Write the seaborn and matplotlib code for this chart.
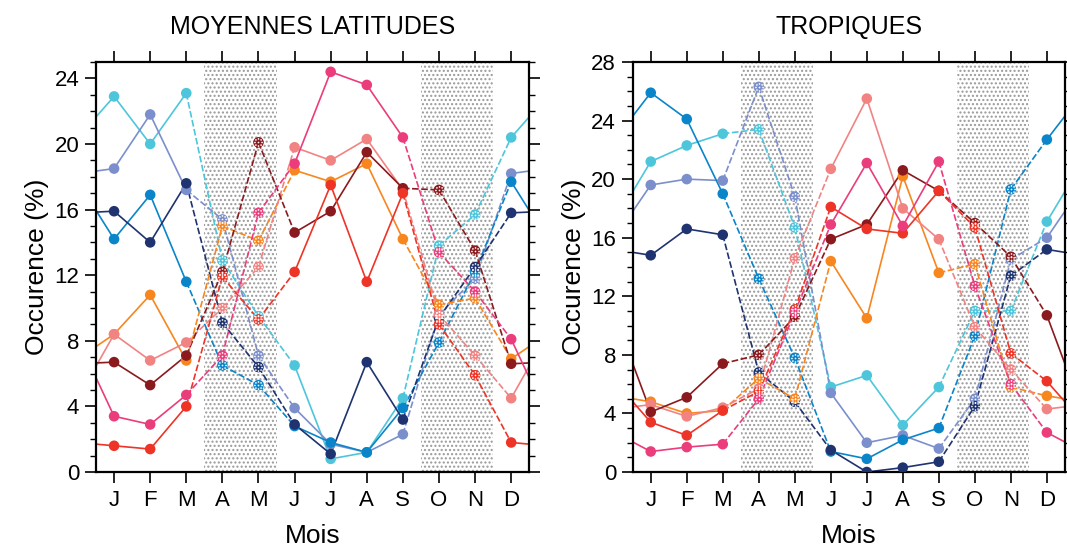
import matplotlib
matplotlib.use('Agg')
import matplotlib.pyplot as plt
from matplotlib.ticker import MultipleLocator
from matplotlib.path import Path
import seaborn as sns
import pandas as pd

sns.set_style('white')
plt.rcParams['font.family'] = ['Liberation Sans', 'DejaVu Sans']
plt.rcParams['text.color'] = 'black'
plt.rcParams['axes.labelcolor'] = 'black'
plt.rcParams['xtick.color'] = 'black'
plt.rcParams['ytick.color'] = 'black'

months = ['J', 'F', 'M', 'A', 'M', 'J', 'J', 'A', 'S', 'O', 'N', 'D']
shaded = [4, 5, 10, 11]  # A, M, O, N

series = ['cyan', 'lavender', 'blue', 'navy', 'orange', 'salmon', 'darkred', 'red', 'magenta']
colors = {'cyan': '#4DC6DB', 'lavender': '#7B8FCC', 'blue': '#0A85C9', 'navy': '#1E3370',
          'orange': '#F7861F', 'salmon': '#F28383', 'darkred': '#8A1A1E', 'red': '#EE3426',
          'magenta': '#EB3C7C'}

# moyennes latitudes
ml_cyan = [22.9, 20.0, 23.1, 12.9, 9.5, 6.5, 0.8, 1.2, 4.5, 13.8, 15.7, 20.4]
ml_lavender = [18.5, 21.8, 17.2, 15.4, 7.1, 3.9, 1.7, 1.2, 2.3, 9.6, 11.8, 18.2]
ml_blue = [14.2, 16.9, 11.6, 6.5, 5.3, 2.8, 1.8, 1.2, 3.9, 7.9, 12.2, 17.7]
ml_navy = [15.9, 14.0, 17.6, 9.1, 6.4, 2.9, 1.1, 6.7, 3.2, 9.4, 12.5, 15.8]
ml_orange = [8.4, 10.8, 6.8, 15.0, 14.1, 18.4, 17.7, 18.8, 14.2, 10.2, 10.6, 6.9]
ml_salmon = [8.4, 6.8, 7.9, 10.0, 12.5, 19.8, 19.0, 20.3, 17.2, 9.6, 7.1, 4.5]
ml_darkred = [6.7, 5.3, 7.1, 12.2, 20.1, 14.6, 15.9, 19.5, 17.3, 17.2, 13.5, 6.6]
ml_red = [1.6, 1.4, 4.0, 11.9, 9.3, 12.2, 17.5, 11.6, 17.0, 9.0, 5.9, 1.8]
ml_magenta = [3.4, 2.9, 4.7, 7.1, 15.8, 18.8, 24.4, 23.6, 20.4, 13.4, 11.0, 8.1]

# tropiques
tr_cyan = [21.2, 22.3, 23.1, 23.4, 16.7, 5.8, 6.6, 3.2, 5.8, 11.0, 11.0, 17.1]
tr_lavender = [19.6, 20.0, 19.9, 26.3, 18.8, 5.4, 2.0, 2.5, 1.6, 5.0, 14.5, 16.0]
tr_blue = [25.9, 24.1, 19.0, 13.2, 7.8, 1.4, 0.9, 2.2, 3.0, 9.3, 19.3, 22.7]
tr_navy = [14.8, 16.6, 16.2, 6.8, 4.8, 1.5, 0.0, 0.3, 0.7, 4.5, 13.4, 15.2]
tr_orange = [4.8, 4.0, 4.2, 6.4, 5.0, 14.4, 10.5, 20.2, 13.6, 14.2, 5.8, 5.2]
tr_salmon = [4.6, 3.8, 4.4, 5.7, 14.6, 20.7, 25.5, 18.0, 15.9, 9.9, 7.0, 4.3]
tr_darkred = [4.1, 5.1, 7.4, 8.0, 10.6, 15.9, 16.9, 20.6, 19.2, 17.0, 14.7, 10.7]
tr_red = [3.4, 2.5, 4.2, 5.5, 11.1, 18.1, 16.6, 16.3, 19.2, 16.7, 8.1, 6.2]
tr_magenta = [1.4, 1.7, 1.9, 5.0, 10.9, 16.9, 21.1, 16.8, 21.2, 12.7, 6.0, 2.7]

ml_data = [ml_cyan, ml_lavender, ml_blue, ml_navy, ml_orange, ml_salmon, ml_darkred, ml_red, ml_magenta]
tr_data = [tr_cyan, tr_lavender, tr_blue, tr_navy, tr_orange, tr_salmon, tr_darkred, tr_red, tr_magenta]

# petit motif de points blancs pour les mois grisés
dot_centers = [(0, 0), (0.55, 0), (-0.55, 0), (0, 0.55), (0, -0.55),
               (0.4, 0.4), (-0.4, 0.4), (0.4, -0.4), (-0.4, -0.4)]
dots = Path.make_compound_path(*[Path.circle(c, 0.13) for c in dot_centers])


def build(data):
    pts = []
    segs = []
    for name, vals in zip(series, data):
        for i, v in enumerate(vals):
            pts.append({'serie': name, 'x': i + 1, 'val': v, 'shade': (i + 1) in shaded})
        # cyclic: D before J and J after D
        ext = [vals[-1]] + vals + [vals[0]]
        for i in range(13):
            dash = (i in shaded) or ((i + 1) in shaded)
            for k in (i, i + 1):
                segs.append({'serie': name, 'x': k, 'val': ext[k], 'seg': i, 'dash': dash})
    return pd.DataFrame(pts), pd.DataFrame(segs)


fig = plt.figure(figsize=(10.67, 5.46), dpi=100)
ax1 = fig.add_axes([0.090, 0.1355, 0.406, 0.751])
ax2 = fig.add_axes([0.593, 0.1355, 0.405, 0.751])

for ax, data, title, ymax in [(ax1, ml_data, 'MOYENNES LATITUDES', 25),
                              (ax2, tr_data, 'TROPIQUES', 28)]:
    pts, segs = build(data)
    for a, b in [(3.5, 5.5), (9.5, 11.5)]:
        ax.axvspan(a, b, facecolor='white', edgecolor='#999999', hatch='....', lw=0, zorder=0)
    sns.lineplot(data=segs, x='x', y='val', hue='serie', style='dash', units='seg',
                 estimator=None, palette=colors, dashes={False: '', True: (4, 1.5)},
                 lw=1.2, legend=False, ax=ax, zorder=2)
    sns.scatterplot(data=pts, x='x', y='val', hue='serie', palette=colors,
                    s=58, linewidth=0, legend=False, ax=ax, zorder=3)
    sh = pts[pts['shade']]
    ax.scatter(sh['x'], sh['val'], marker=dots, s=40, color='white', linewidths=0, zorder=4)

    ax.set_xlim(0.5, 12.5)
    ax.set_ylim(0, ymax)
    ax.set_xticks(range(1, 13))
    ax.set_xticklabels(months)
    ax.yaxis.set_major_locator(MultipleLocator(4))
    ax.yaxis.set_minor_locator(MultipleLocator(1))
    ax.tick_params(axis='x', which='major', direction='out', length=8, width=1.2,
                   top=True, bottom=True, labelsize=16, pad=5)
    ax.tick_params(axis='y', which='major', direction='out', length=8, width=1.2,
                   left=True, right=True, labelsize=16, pad=4)
    ax.tick_params(axis='y', which='minor', direction='out', length=4.5, width=1.0,
                   left=True, right=True)
    for sp in ax.spines.values():
        sp.set_linewidth(1.6)
        sp.set_color('black')
    ax.set_title(title, fontsize=18, pad=20)
    ax.set_xlabel('Mois', fontsize=19, labelpad=9)
    ax.set_ylabel('Occurence (%)', fontsize=19, labelpad=4)

fig.savefig('out.png', dpi=100)
